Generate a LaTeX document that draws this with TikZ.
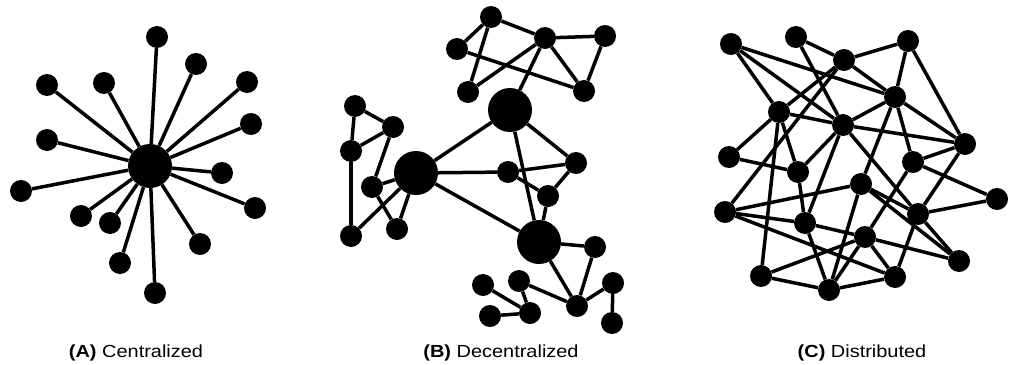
\documentclass[tikz,border=0pt]{standalone}
\usepackage{fontspec}
\setmainfont{Liberation Sans}
\usepackage{tikz}
\usetikzlibrary{positioning, calc}

\newcommand{\panellabel}[2]{\scalebox{1.14}[1]{\textbf{(#1)} #2}}

\begin{document}
\begin{tikzpicture}[x=1pt, y=-1pt,
    leaf/.style={circle, fill=black, inner sep=0pt, minimum size=22pt},
    hub/.style={circle, fill=black, inner sep=0pt, minimum size=44pt},
    link/.style={line width=3.5pt}]
  \useasboundingbox (0,0) rectangle (1016,364);

  % (A) centralized
  \node[hub] (hubA) at (150,166) {};
  \foreach \n/\x/\y in {1/157/37, 2/196/64, 3/247/82, 4/47/85, 5/104/83,
      6/251/124, 7/47/140, 8/222/173, 9/21/191, 10/255/208, 11/81/216,
      12/110/223, 13/200/244, 14/120/263, 15/155/293} {
    \node[leaf] (a\n) at (\x,\y) {};
    \draw[link] (hubA) -- (a\n);
  }

  % (B) decentralized
  \node[hub] (hubB1) at (510,110) {};
  \node[hub] (hubB2) at (416,173) {};
  \node[hub] (hubB3) at (539,242) {};
  \foreach \n/\x/\y in {1/491/17, 2/545/38, 3/605/36, 4/457/49, 5/468/92,
      6/584/91, 7/355/106, 8/393/127, 9/351/151, 10/576/163, 11/508/172,
      12/372/187, 13/548/196, 14/351/236, 15/397/229, 16/595/247,
      17/483/285, 18/519/281, 19/613/283, 20/577/306, 21/490/316,
      22/530/313, 23/612/323}
    \node[leaf] (b\n) at (\x,\y) {};
  \foreach \p/\q in {b1/b4, b1/b5, b1/b2, b2/b3, b3/b6, b2/b6, b4/b6, b5/b2,
      b2/hubB1, hubB1/hubB2, hubB1/b10, hubB1/hubB3, hubB2/b11, b11/b10,
      b11/b13, b10/b13, b13/hubB3, hubB2/hubB3, hubB2/b12, hubB2/b15,
      hubB2/b14, b7/b8, b7/b9, b9/b8, b8/b12, b12/b15, b9/b14,
      hubB3/b16, hubB3/b20, b16/b20, b20/b19, b19/b23, b20/b18, b18/b22,
      b22/b17, b22/b21}
    \draw[link] (\p) -- (\q);

  % (C) distributed
  \foreach \n/\x/\y in {1/731/44, 2/796/37, 3/844/60, 4/908/41, 5/895/97,
      6/779/112, 7/843/125, 8/965/144, 9/729/157, 10/913/162, 11/798/172,
      12/861/184, 13/997/199, 14/725/212, 15/918/214, 16/805/223,
      17/865/237, 18/959/261, 19/761/276, 20/895/277, 21/829/290}
    \node[leaf] (c\n) at (\x,\y) {};
  \foreach \p/\q in {1/5, 1/6, 1/7, 2/3, 2/7, 3/4, 3/5, 3/6, 3/14, 4/5, 4/8,
      5/7, 5/8, 5/10, 5/12, 6/7, 6/9, 6/11, 6/19, 7/8, 7/11, 7/16, 7/15,
      8/10, 8/15, 9/11, 10/13, 10/17, 11/16, 12/14, 12/15, 12/18, 12/21,
      13/15, 14/16, 14/20, 15/18, 15/20, 16/17, 16/21, 17/18, 17/20,
      17/19, 17/21, 19/21, 21/20}
    \draw[link] (c\p) -- (c\q);

  % labels
  \node[anchor=base] (labA) at (136,357) {\fontsize{17.5}{20}\selectfont\panellabel{A}{Centralized}};
  \node[anchor=base] (labB) at (501,357) {\fontsize{17.5}{20}\selectfont\panellabel{B}{Decentralized}};
  \node[anchor=base] (labC) at (862,357) {\fontsize{17.5}{20}\selectfont\panellabel{C}{Distributed}};
\end{tikzpicture}
\end{document}
